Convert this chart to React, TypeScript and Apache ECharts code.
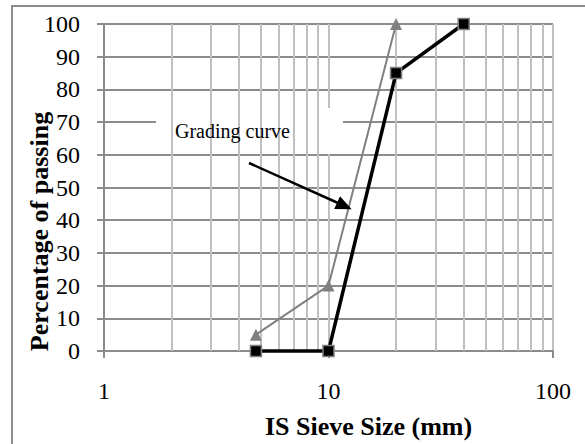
import React, { useEffect, useRef } from "react";
import * as echarts from "echarts";

const sieveSizes = [4.75, 10, 20, 40];
const gradingCurve = [0, 0, 85, 100];
const limitSizes = [4.75, 10, 20];
const limitValues = [5, 20, 100];
const minorGrid = [2, 3, 4, 5, 6, 7, 8, 9, 20, 30, 40, 50, 60, 70, 80, 90];
const xTitle = "IS Sieve Size (mm)";
const yTitle = "Percentage of passing";
const annotation = "Grading curve";

const FONT = "Liberation Serif";

const labelRich = {
  t: { fontFamily: FONT, fontSize: 24, color: "#000", fontWeight: "normal" },
};

export default function App() {
  const ref = useRef<HTMLDivElement>(null);
  useEffect(() => {
    if (!ref.current) return;
    const chart = echarts.init(ref.current, null, { renderer: "svg" });
    chart.setOption({
      animation: false,
      backgroundColor: "#ffffff",
      textStyle: { fontFamily: FONT },
      grid: { left: 104, right: 32, top: 24, bottom: 91 },
      xAxis: {
        type: "log",
        logBase: 10,
        min: 1,
        max: 100,
        name: xTitle,
        nameLocation: "middle",
        nameGap: 62,
        nameMoveOverlap: false,
        nameTextStyle: {
          fontFamily: FONT,
          fontWeight: "bold",
          fontSize: 26,
          color: "#000",
          padding: [0, 0, 0, 80],
        },
        axisLine: { show: true, lineStyle: { color: "#8c8c8c", width: 2 } },
        axisTick: { show: true, length: 7, lineStyle: { color: "#8c8c8c", width: 2 } },
        axisLabel: {
          fontFamily: FONT,
          fontSize: 24,
          color: "#000",
          margin: 28,
          formatter: "{t|{value}}",
          rich: labelRich,
        },
        splitLine: { show: true, lineStyle: { color: "#c0c0c0", width: 2 } },
      },
      yAxis: {
        type: "value",
        min: 0,
        max: 100,
        interval: 10,
        name: yTitle,
        nameLocation: "middle",
        nameGap: 52,
        nameMoveOverlap: false,
        nameTextStyle: {
          fontFamily: FONT,
          fontWeight: "bold",
          fontSize: 26,
          color: "#000",
          padding: [0, 88, 0, 0],
        },
        axisLine: { show: true, lineStyle: { color: "#8c8c8c", width: 2 } },
        axisTick: { show: true, length: 7, lineStyle: { color: "#8c8c8c", width: 2 } },
        axisLabel: {
          fontFamily: FONT,
          fontSize: 24,
          color: "#000",
          margin: 24,
          formatter: "{t|{value}}",
          rich: labelRich,
        },
        splitLine: { show: true, lineStyle: { color: "#8c8c8c", width: 2 } },
      },
      series: [
        {
          type: "line",
          z: 1,
          data: [],
          silent: true,
          markLine: {
            silent: true,
            symbol: "none",
            label: { show: false },
            lineStyle: { color: "#c0c0c0", width: 2, type: "solid" },
            data: minorGrid.map((v) => ({ xAxis: v })),
          },
        },
        {
          type: "line",
          z: 10,
          data: limitSizes.map((x, i) => [x, limitValues[i]]),
          symbol: "triangle",
          symbolSize: 12,
          lineStyle: { color: "#808080", width: 2 },
          itemStyle: { color: "#808080" },
          clip: false,
        },
        {
          type: "line",
          z: 11,
          data: sieveSizes.map((x, i) => [x, gradingCurve[i]]),
          symbol: "rect",
          symbolSize: 11,
          lineStyle: { color: "#000", width: 3.5 },
          itemStyle: { color: "#000", borderColor: "#808080", borderWidth: 1.5 },
          clip: false,
        },
      ],
      graphic: [
        {
          type: "rect",
          z: 5,
          shape: { x: 156, y: 108, width: 187, height: 46 },
          style: { fill: "#ffffff" },
        },
        {
          type: "text",
          z: 6,
          x: 175,
          y: 131,
          style: {
            text: annotation,
            fontFamily: FONT,
            fontSize: 20,
            fill: "#000",
            verticalAlign: "middle",
          },
        },
        {
          type: "line",
          z: 20,
          shape: { x1: 249, y1: 163, x2: 338, y2: 203 },
          style: { stroke: "#000", lineWidth: 2.5 },
        },
        {
          type: "polygon",
          z: 20,
          shape: { points: [[351.7, 209.3], [334.2, 209.1], [340, 196.3]] },
          style: { fill: "#000" },
        },
        {
          type: "rect",
          z: 30,
          shape: { x: 12, y: 6, width: 700, height: 600 },
          style: { fill: "none", stroke: "#8c8c8c", lineWidth: 2 },
        },
      ],
    });
    return () => chart.dispose();
  }, []);
  return (
    <div
      ref={ref}
      style={{ position: "fixed", left: 0, top: 0, width: 585, height: 444 }}
    />
  );
}
